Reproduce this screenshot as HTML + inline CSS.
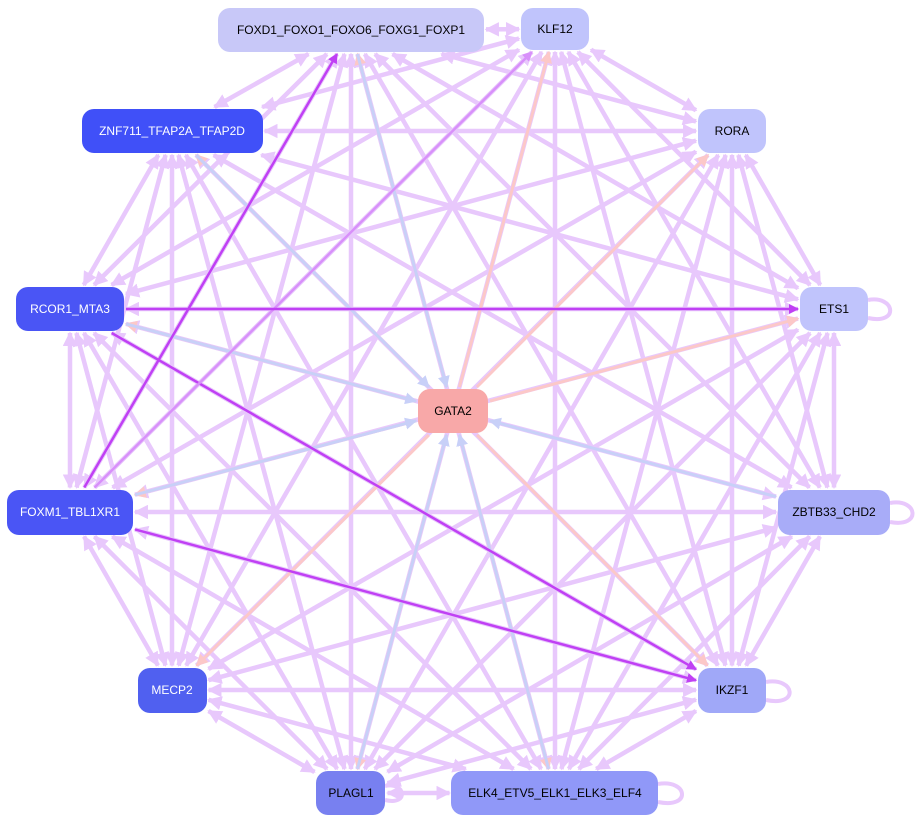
<!DOCTYPE html>
<html><head><meta charset="utf-8"><style>
body{margin:0;background:#fff;width:922px;height:823px;overflow:hidden}
svg{display:block}
text{font-family:"Liberation Sans",sans-serif;font-size:12px;text-anchor:middle;dominant-baseline:central}
</style></head><body>
<svg id="s" width="922" height="823" xmlns="http://www.w3.org/2000/svg">
<defs>
<marker id="mL" viewBox="0 0 10 10" refX="9" refY="5" markerWidth="3.2" markerHeight="3.2" orient="auto-start-reverse"><path d="M0,0L10,5L0,10z" fill="#e8c8fc"/></marker>
<marker id="mP" viewBox="0 0 10 10" refX="9" refY="5" markerWidth="4" markerHeight="4" orient="auto-start-reverse"><path d="M0,0L10,5L0,10z" fill="#c040f4"/></marker>
<marker id="mQ" viewBox="0 0 10 10" refX="9" refY="5" markerWidth="4" markerHeight="4" orient="auto-start-reverse"><path d="M0,0L10,5L0,10z" fill="#d890fa"/></marker>
<marker id="mR" viewBox="0 0 10 10" refX="9" refY="5" markerWidth="4" markerHeight="4" orient="auto-start-reverse"><path d="M0,0L10,5L0,10z" fill="#fcc8c8"/></marker>
<marker id="mB" viewBox="0 0 10 10" refX="9" refY="5" markerWidth="4" markerHeight="4" orient="auto-start-reverse"><path d="M0,0L10,5L0,10z" fill="#c8d0f8"/></marker>
</defs>
<g id="edges"></g>
<g id="nodes">
<rect x="218" y="8" width="266" height="44" rx="12" fill="#c8c8f8"/><text x="351" y="30">FOXD1_FOXO1_FOXO6_FOXG1_FOXP1</text>
<rect x="521" y="8" width="68" height="42" rx="12" fill="#c0c4fc"/><text x="555" y="29">KLF12</text>
<rect x="82" y="109" width="181" height="44" rx="12" fill="#4050f8"/><text x="172" y="131" fill="#fff">ZNF711_TFAP2A_TFAP2D</text>
<rect x="698" y="109" width="68" height="44" rx="12" fill="#c0c4fc"/><text x="732" y="131">RORA</text>
<rect x="16" y="287" width="108" height="44" rx="12" fill="#4a55f5"/><text x="70" y="309" fill="#fff">RCOR1_MTA3</text>
<rect x="800" y="287" width="68" height="44" rx="12" fill="#c0c4fc"/><text x="834" y="309">ETS1</text>
<rect x="418" y="389" width="70" height="44" rx="12" fill="#f8a8a8"/><text x="453" y="411">GATA2</text>
<rect x="7" y="490" width="126" height="45" rx="12" fill="#4a55f5"/><text x="70" y="512" fill="#fff">FOXM1_TBL1XR1</text>
<rect x="778" y="490" width="112" height="45" rx="12" fill="#a8acf8"/><text x="834" y="512">ZBTB33_CHD2</text>
<rect x="138" y="668" width="69" height="45" rx="12" fill="#5060f0"/><text x="172" y="690" fill="#fff">MECP2</text>
<rect x="698" y="668" width="68" height="45" rx="12" fill="#a0a8f8"/><text x="732" y="690">IKZF1</text>
<rect x="316" y="771" width="69" height="44" rx="12" fill="#7880f0"/><text x="351" y="793">PLAGL1</text>
<rect x="451" y="771" width="207" height="44" rx="12" fill="#9098f8"/><text x="555" y="793">ELK4_ETV5_ELK1_ELK3_ELF4</text>
</g>
</svg>
<script>
var N={FOX:[351,30,266,44],KLF:[555,29,68,42],ZNF:[172,131,181,44],RORA:[732,131,68,44],RCOR:[70,309,108,44],ETS:[834,309,68,44],GATA:[453,411,70,44],FOXM:[70,512,126,45],ZBTB:[834,512,112,45],MECP:[172,690,69,45],IKZF:[732,690,68,45],PLAG:[351,793,69,44],ELK:[555,793,207,44]};
function clip(a,b){var dx=b[0]-a[0],dy=b[1]-a[1];var hw=a[2]/2+2,hh=a[3]/2+2;var t=Math.min(dx?hw/Math.abs(dx):1e9,dy?hh/Math.abs(dy):1e9);return [a[0]+dx*t,a[1]+dy*t];}
var g=document.getElementById('edges');var ns='http://www.w3.org/2000/svg';
function line(a,b,col,w,m,both){var A=N[a],B=N[b];var p=clip(A,B),q=clip(B,A);var l=document.createElementNS(ns,'line');l.setAttribute('x1',p[0]);l.setAttribute('y1',p[1]);l.setAttribute('x2',q[0]);l.setAttribute('y2',q[1]);l.setAttribute('stroke',col);l.setAttribute('stroke-width',w);l.setAttribute('marker-end','url(#'+m+')');if(both)l.setAttribute('marker-start','url(#'+m+')');g.appendChild(l);}
var outer=['FOX','KLF','ZNF','RORA','RCOR','ETS','FOXM','ZBTB','MECP','IKZF','PLAG','ELK'];
for(var i=0;i<outer.length;i++)for(var j=i+1;j<outer.length;j++)line(outer[i],outer[j],'#e8c8fc',4.5,'mL',true);
['FOX','KLF','RORA','ETS','RCOR','FOXM','MECP','PLAG','IKZF','ELK','ZNF'].forEach(function(k){line('GATA',k,'#fcc8c8',3,'mR');});
['ZBTB','FOXM','ZNF','FOX','ELK','PLAG','RCOR'].forEach(function(k){line(k,'GATA','#c8d0f8',3,'mB');});
line('FOXM','FOX','#c040f4',2.5,'mP');line('RCOR','IKZF','#c040f4',2.5,'mP');line('FOXM','IKZF','#c040f4',2.5,'mP');line('FOXM','KLF','#d890fa',2.5,'mQ');line('RCOR','ETS','#c040f4',2.5,'mP');
function loop(d){var p=document.createElementNS(ns,'path');p.setAttribute('d',d);p.setAttribute('fill','none');p.setAttribute('stroke','#e8c8fc');p.setAttribute('stroke-width',4);g.appendChild(p);}
loop('M868,300 C895,295 900,325 868,318');loop('M890,503 C918,498 922,528 890,522');loop('M766,682 C795,677 800,707 766,700');loop('M658,784 C688,779 692,809 658,802');loop('M385,786 C405,781 410,806 385,800');
</script>
</body></html>
